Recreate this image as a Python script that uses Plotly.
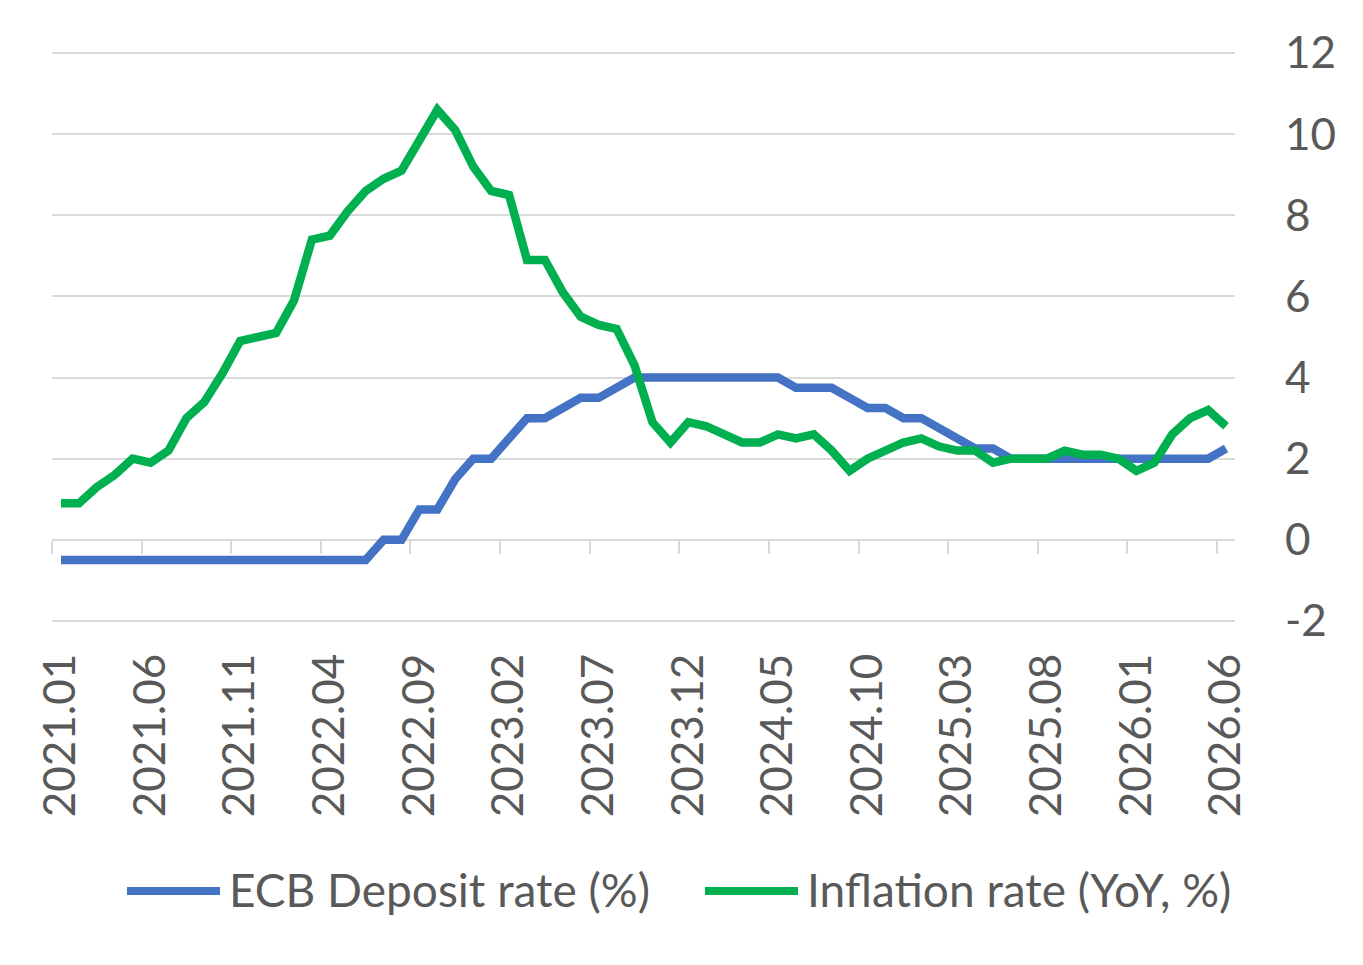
import plotly.graph_objects as go

# ---------------- data ----------------
months = [f"{y}.{m:02d}" for y in range(2021, 2027) for m in range(1, 13)][:66]

ecb_deposit_rate = [
    -0.5, -0.5, -0.5, -0.5, -0.5, -0.5, -0.5, -0.5, -0.5, -0.5, -0.5, -0.5,   # 2021
    -0.5, -0.5, -0.5, -0.5, -0.5, -0.5, 0.0, 0.0, 0.75, 0.75, 1.5, 2.0,        # 2022
    2.0, 2.5, 3.0, 3.0, 3.25, 3.5, 3.5, 3.75, 4.0, 4.0, 4.0, 4.0,              # 2023
    4.0, 4.0, 4.0, 4.0, 4.0, 3.75, 3.75, 3.75, 3.5, 3.25, 3.25, 3.0,           # 2024
    3.0, 2.75, 2.5, 2.25, 2.25, 2.0, 2.0, 2.0, 2.0, 2.0, 2.0, 2.0,             # 2025
    2.0, 2.0, 2.0, 2.0, 2.0, 2.25,                                             # 2026
]

inflation_rate = [
    0.9, 0.9, 1.3, 1.6, 2.0, 1.9, 2.2, 3.0, 3.4, 4.1, 4.9, 5.0,               # 2021
    5.1, 5.9, 7.4, 7.5, 8.1, 8.6, 8.9, 9.1, 9.9, 10.6, 10.1, 9.2,             # 2022
    8.6, 8.5, 6.9, 6.9, 6.1, 5.5, 5.3, 5.2, 4.3, 2.9, 2.4, 2.9,               # 2023
    2.8, 2.6, 2.4, 2.4, 2.6, 2.5, 2.6, 2.2, 1.7, 2.0, 2.2, 2.4,               # 2024
    2.5, 2.3, 2.2, 2.2, 1.9, 2.0, 2.0, 2.0, 2.2, 2.1, 2.1, 2.0,               # 2025
    1.7, 1.9, 2.6, 3.0, 3.2, 2.8,                                             # 2026
]

tick_labels = months[::5]
y_ticks = [-2, 0, 2, 4, 6, 8, 10, 12]
y_tick_text = ["-2", "0", "2", "4", "6", "8", "10", "12"]
series_names = ["ECB Deposit rate (%)", "Inflation rate (YoY, %)"]
y_range = [-2.05, 12.05]

# ---------------- style ----------------
BLUE = "#4472C4"
GREEN = "#00B050"
GRID = "#D9D9D9"
TEXT = "#595959"
FONT = "Lato"

W, H = 1363, 965
L, R, T, B = 52, 128, 51, 342
PW, PH = W - L - R, H - T - B


def px_x(px):
    return (px - L) / PW


def px_y(py):
    return (H - B - py) / PH


fig = go.Figure()
fig.add_trace(go.Scatter(x=months, y=ecb_deposit_rate, mode="lines",
                         name=series_names[0],
                         line=dict(color=BLUE, width=8.5), showlegend=False))
fig.add_trace(go.Scatter(x=months, y=inflation_rate, mode="lines",
                         name=series_names[1],
                         line=dict(color=GREEN, width=8.5), showlegend=False))
# invisible helper trace carrying the secondary (tick-mark) axis
fig.add_trace(go.Scatter(x=list(range(len(months))), y=ecb_deposit_rate,
                         xaxis="x2", mode="lines", line=dict(width=0),
                         opacity=0, hoverinfo="skip", showlegend=False))

n = len(months)
fig.update_layout(
    width=W, height=H,
    margin=dict(l=L, r=R, t=T, b=B),
    paper_bgcolor="white", plot_bgcolor="white",
    font=dict(family=FONT, color=TEXT, size=44),
    showlegend=False,
    xaxis=dict(type="category", categoryarray=months, categoryorder="array",
               range=[-0.5, n - 0.5], tickmode="array", tickvals=tick_labels,
               ticktext=tick_labels, tickangle=-90, ticks="", showgrid=False,
               zeroline=False, showline=False, ticklabelstandoff=21,
               tickfont=dict(family=FONT, size=44, color=TEXT)),
    xaxis2=dict(overlaying="x", anchor="free",
                position=(0 - y_range[0]) / (y_range[1] - y_range[0]),
                range=[-0.5, n - 0.5], tickmode="array",
                tickvals=[i - 0.5 for i in range(0, n, 5)],
                ticks="outside", ticklen=13, tickwidth=2, tickcolor=GRID,
                showticklabels=False, showgrid=False, zeroline=False,
                showline=False),
    yaxis=dict(side="right", range=y_range, tickmode="array",
               tickvals=y_ticks, ticktext=y_tick_text,
               showgrid=True, gridcolor=GRID, gridwidth=2, zeroline=False,
               showline=False, ticks="", ticklabelstandoff=49,
               tickfont=dict(family=FONT, size=44, color=TEXT)),
)

# ---------------- legend (drawn manually, Excel-style long keys) ----------------
legend_y = 891
items = [(series_names[0], BLUE, 127, 220, 227),
         (series_names[1], GREEN, 705, 798, 805)]
for name, col, x0, x1, xt in items:
    fig.add_shape(type="line", xref="paper", yref="paper",
                  x0=px_x(x0), x1=px_x(x1), y0=px_y(legend_y), y1=px_y(legend_y),
                  line=dict(color=col, width=8))
    fig.add_annotation(text=name, xref="paper", yref="paper",
                       x=px_x(xt), y=px_y(legend_y - 2), xanchor="left",
                       yanchor="middle", showarrow=False,
                       font=dict(family=FONT, size=46, color=TEXT))

fig.write_html("out.html")
